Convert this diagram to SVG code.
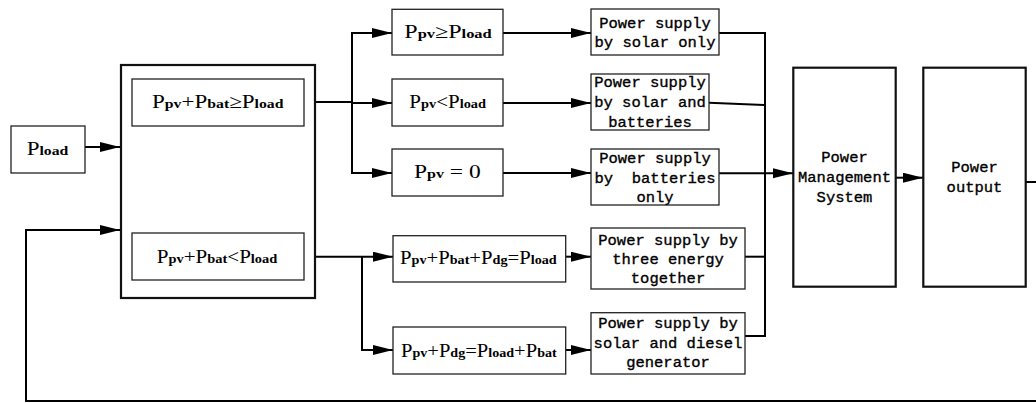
<svg xmlns="http://www.w3.org/2000/svg" width="1036" height="403" viewBox="0 0 1036 403">
<defs>
<marker id="arr" markerUnits="userSpaceOnUse" markerWidth="21" markerHeight="11" refX="20" refY="5" orient="auto">
<path d="M0,0 L20,5 L0,10 z" fill="#000"/>
</marker>
<style>
.box{fill:#fff;stroke:#222;stroke-width:1.3}
.big{fill:#fff;stroke:#111;stroke-width:2.2}
.c{fill:none;stroke:#000;stroke-width:2}
.a{marker-end:url(#arr)}
.p{font-family:"Liberation Serif","Noto Serif CJK SC",serif;font-size:19px;fill:#000}
.s{font-family:"Liberation Serif",serif;font-size:13px;font-weight:bold}
.m{font-family:"Liberation Mono","DejaVu Sans Mono",monospace;font-size:15.5px;fill:#000;stroke:#000;stroke-width:0.35;text-anchor:middle}
</style>
</defs>
<rect width="1036" height="403" fill="#fff"/>

<g id="connectors">
<path class="c a" d="M85,147 H120"/>
<path class="c a" d="M1026,182 H1040 V401 H26 V230 H120"/>
<path class="c" d="M304,102 H352"/>
<path class="c a" d="M352,102 V33 H392"/>
<path class="c a" d="M352,102 V103 H392"/>
<path class="c a" d="M352,102 V173 H392"/>
<path class="c a" d="M304,256.7 H393"/>
<path class="c a" d="M362,256.7 V350 H393"/>
<path class="c a" d="M503,33 H591"/>
<path class="c a" d="M503,103 H591"/>
<path class="c a" d="M503,173 H591"/>
<path class="c a" d="M566,256.7 H591"/>
<path class="c a" d="M566,350 H591"/>
<path class="c" d="M719,33 H765 V336 H745"/>
<path class="c" d="M709,102.7 L765,105"/>
<path class="c" d="M745,256.7 H765"/>
<path class="c a" d="M719,173.3 H793"/>
<path class="c a" d="M896,177.7 H923"/>
</g>

<g id="pload">
<rect class="box" x="11" y="126" width="74" height="47"/>
<text class="p" x="26.7" y="155" textLength="41.6" lengthAdjust="spacingAndGlyphs">P<tspan class="s">load</tspan></text>
</g>

<g id="decision">
<rect class="big" x="121" y="65" width="194" height="233"/>
</g>

<g id="cond-ge">
<rect class="box" x="132" y="79" width="172" height="47"/>
<text class="p" x="152" y="108.3" textLength="131.5" lengthAdjust="spacingAndGlyphs">P<tspan class="s">pv</tspan>+P<tspan class="s">bat</tspan>≥P<tspan class="s">load</tspan></text>
</g>

<g id="cond-lt">
<rect class="box" x="132" y="233" width="172" height="47"/>
<text class="p" x="156.7" y="262.7" textLength="120.6" lengthAdjust="spacingAndGlyphs">P<tspan class="s">pv</tspan>+P<tspan class="s">bat</tspan>&lt;P<tspan class="s">load</tspan></text>
</g>

<g id="pv-ge">
<rect class="box" x="392" y="9.3" width="111" height="45.7"/>
<text class="p" x="404.3" y="38.3" textLength="87.4" lengthAdjust="spacingAndGlyphs">P<tspan class="s">pv</tspan>≥P<tspan class="s">load</tspan></text>
</g>

<g id="pv-lt">
<rect class="box" x="392" y="79" width="111" height="47"/>
<text class="p" x="409.3" y="108.3" textLength="76.7" lengthAdjust="spacingAndGlyphs">P<tspan class="s">pv</tspan>&lt;P<tspan class="s">load</tspan></text>
</g>

<g id="pv-zero">
<rect class="box" x="392" y="149" width="111" height="47"/>
<text class="p" x="414" y="178.3" textLength="66.7" lengthAdjust="spacingAndGlyphs">P<tspan class="s">pv</tspan> = 0</text>
</g>

<g id="three-cond">
<rect class="box" x="393" y="235.7" width="172.7" height="46.3"/>
<text class="p" x="400" y="264.3" textLength="156.7" lengthAdjust="spacingAndGlyphs">P<tspan class="s">pv</tspan>+P<tspan class="s">bat</tspan>+P<tspan class="s">dg</tspan>=P<tspan class="s">load</tspan></text>
</g>

<g id="diesel-cond">
<rect class="box" x="393" y="327" width="172.7" height="47"/>
<text class="p" x="401" y="356.7" textLength="155.7" lengthAdjust="spacingAndGlyphs">P<tspan class="s">pv</tspan>+P<tspan class="s">dg</tspan>=P<tspan class="s">load</tspan>+P<tspan class="s">bat</tspan></text>
</g>

<g id="solar-only">
<rect class="box" x="591" y="9" width="128" height="46"/>
<text class="m" x="655" y="28.3">Power supply</text>
<text class="m" x="655" y="47">by solar only</text>
</g>

<g id="solar-batteries">
<rect class="box" x="591" y="74" width="118" height="56"/>
<text class="m" x="650" y="87.3">Power supply</text>
<text class="m" x="650" y="107.3">by solar and</text>
<text class="m" x="650" y="126.7">batteries</text>
</g>

<g id="batteries-only">
<rect class="box" x="591" y="149" width="128" height="56"/>
<text class="m" x="655" y="162.7">Power supply</text>
<text class="m" x="655" y="182.7" xml:space="preserve">by  batteries</text>
<text class="m" x="655" y="202">only</text>
</g>

<g id="three-energy">
<rect class="box" x="591" y="228" width="154" height="61"/>
<text class="m" x="668" y="245">Power supply by</text>
<text class="m" x="668" y="264.3">three energy</text>
<text class="m" x="668" y="283.3">together</text>
</g>

<g id="solar-diesel">
<rect class="box" x="591" y="312.7" width="154" height="61.3"/>
<text class="m" x="668" y="328.3">Power supply by</text>
<text class="m" x="668" y="347.7">solar and diesel</text>
<text class="m" x="668" y="367.3">generator</text>
</g>

<g id="pms">
<rect class="big" x="793.3" y="67.7" width="102.4" height="219"/>
<text class="m" x="844.5" y="161.7">Power</text>
<text class="m" x="844.5" y="181.7">Management</text>
<text class="m" x="844.5" y="201.7">System</text>
</g>

<g id="power-output">
<rect class="big" x="923.3" y="67.7" width="102.4" height="219"/>
<text class="m" x="974.5" y="171.7">Power</text>
<text class="m" x="974.5" y="191.7">output</text>
</g>
</svg>
